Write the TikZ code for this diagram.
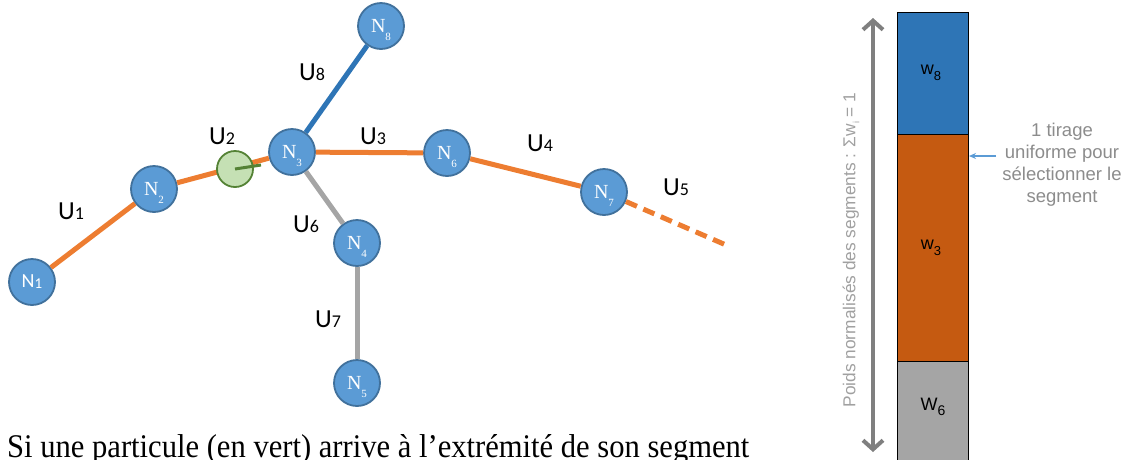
\documentclass[tikz,border=0pt]{standalone}
\usepackage{fontspec}
\setmainfont{Liberation Serif}
\newfontfamily\calib{Carlito}
\newfontfamily\arialf{Liberation Sans}
\usetikzlibrary{arrows.meta}
\definecolor{orng}{HTML}{ED7D31}
\definecolor{segblue}{HTML}{2E75B6}
\definecolor{seggray}{HTML}{A5A5A5}
\definecolor{ndfill}{HTML}{5B9BD5}
\definecolor{ndline}{HTML}{41719C}
\definecolor{ptfill}{HTML}{C5E0B4}
\definecolor{ptline}{HTML}{548235}
\definecolor{barorange}{HTML}{C55A11}
\definecolor{arrgray}{HTML}{7F7F7F}
\definecolor{rottext}{HTML}{A0A0A0}
\definecolor{sidetext}{HTML}{8C8C8C}
\newcommand\Nlab[1]{N\smash{\raisebox{-8pt}{\fontsize{11}{11}\selectfont #1}}}
\newcommand\Ulab[1]{U\raisebox{-0.5pt}{\fontsize{18}{18}\selectfont #1}}
\begin{document}
\begin{tikzpicture}[x=1pt,y=-1pt,
  nd/.style={circle, draw=ndline, fill=ndfill, line width=1.8pt, minimum size=46pt, inner sep=0pt, text=white, font=\fontsize{20}{20}\selectfont},
  seg/.style={line width=5pt},
  ulab/.style={font=\calib\fontsize{26}{26}\selectfont, inner sep=0pt},
  wlab/.style={font=\arialf\fontsize{18}{18}\selectfont, inner sep=0pt},
  barbox/.style={draw=black, line width=1pt}]
\useasboundingbox (0,0) rectangle (1133,459);

% nodes
\node[nd] (n1) at (32,282) {\calib N\raisebox{-1pt}{\fontsize{15}{15}\selectfont 1}};
\node[nd] (n2) at (154,189) {\Nlab{2}};
\node[nd] (n3) at (292,152) {\Nlab{3}};
\node[nd] (n4) at (357,243) {\Nlab{4}};
\node[nd] (n5) at (357,383) {\Nlab{5}};
\node[nd] (n6) at (447,153) {\Nlab{6}};
\node[nd] (n7) at (604,192) {\Nlab{7}};
\node[nd] (n8) at (381,26) {\Nlab{8}};
\coordinate (u5end) at (726,245);

% segments
\draw[seg, orng] (n1) -- (n2);
\draw[seg, orng] (n2) -- (n3);
\draw[seg, orng] (n3) -- (n6);
\draw[seg, orng] (n6) -- (n7);
\draw[seg, orng, dash pattern=on 12pt off 7pt] (n7) -- (u5end);
\draw[seg, segblue] (n3) -- (n8);
\draw[seg, seggray] (n3) -- (n4);
\draw[seg, seggray] (n4) -- (n5);

% particle
\node[circle, draw=ptline, fill=ptfill, line width=1.8pt, minimum size=36pt, inner sep=0pt] (pt) at (235,169) {};
\coordinate (ptdir) at (261,165);
\draw[ptline, line width=3pt] (pt.center) -- (ptdir);

% segment labels
\node[ulab] (u1) at (71,211) {\Ulab{1}};
\node[ulab] (u2) at (222,136) {\Ulab{2}};
\node[ulab] (u3) at (373,136) {\Ulab{3}};
\node[ulab] (u4) at (540,143) {\Ulab{4}};
\node[ulab] (u5) at (676,187) {\Ulab{5}};
\node[ulab] (u6) at (306,224) {\Ulab{6}};
\node[ulab] (u7) at (328,319) {\Ulab{7}};
\node[ulab] (u8) at (312,72) {\Ulab{8}};

% weight bar
\filldraw[barbox, fill=segblue] (897,12) rectangle (968,134);
\filldraw[barbox, fill=barorange] (897,134) rectangle (968,361);
\filldraw[barbox, fill=seggray] (897,361) rectangle (968,470);
\node[wlab] (w8) at (931,73) {w\raisebox{-6pt}{\fontsize{13}{13}\selectfont 8}};
\node[wlab] (w3) at (931,248) {w\raisebox{-6pt}{\fontsize{13}{13}\selectfont 3}};
\node[wlab] (w6) at (933,407) {W\raisebox{-5pt}{\fontsize{14}{14}\selectfont 6}};

% double arrow
\coordinate (atop) at (873,18);
\coordinate (abot) at (873,452);
\draw[arrgray, line width=4pt, {Straight Barb[length=9pt,width=20pt,line width=4pt]}-{Straight Barb[length=9pt,width=20pt,line width=4pt]}] (atop) -- (abot);
\node[rotate=90, text=rottext, font=\arialf\fontsize{17.3}{17.3}\selectfont, inner sep=0pt] (axis) at (851,250)
  {Poids normalisés des segments : Σw\raisebox{-4pt}{\fontsize{9}{9}\selectfont i} = 1};

% side note
\node[text=sidetext, font=\arialf\fontsize{18.5}{22}\selectfont, align=center, inner sep=0pt] (note) at (1062,165)
  {1 tirage\\uniforme pour\\sélectionner le\\segment};
\coordinate (pstart) at (996,156);
\coordinate (pend) at (969,156);
\draw[ndfill, line width=1.2pt, -{Stealth[length=7pt,width=6pt]}] (pstart) -- (pend);

% caption
\node[anchor=base west, inner sep=0pt] (cap) at (7,457)
  {\resizebox{742pt}{23pt}{Si une particule (en vert) arrive à l’extrémité de son segment}};
\end{tikzpicture}
\end{document}
